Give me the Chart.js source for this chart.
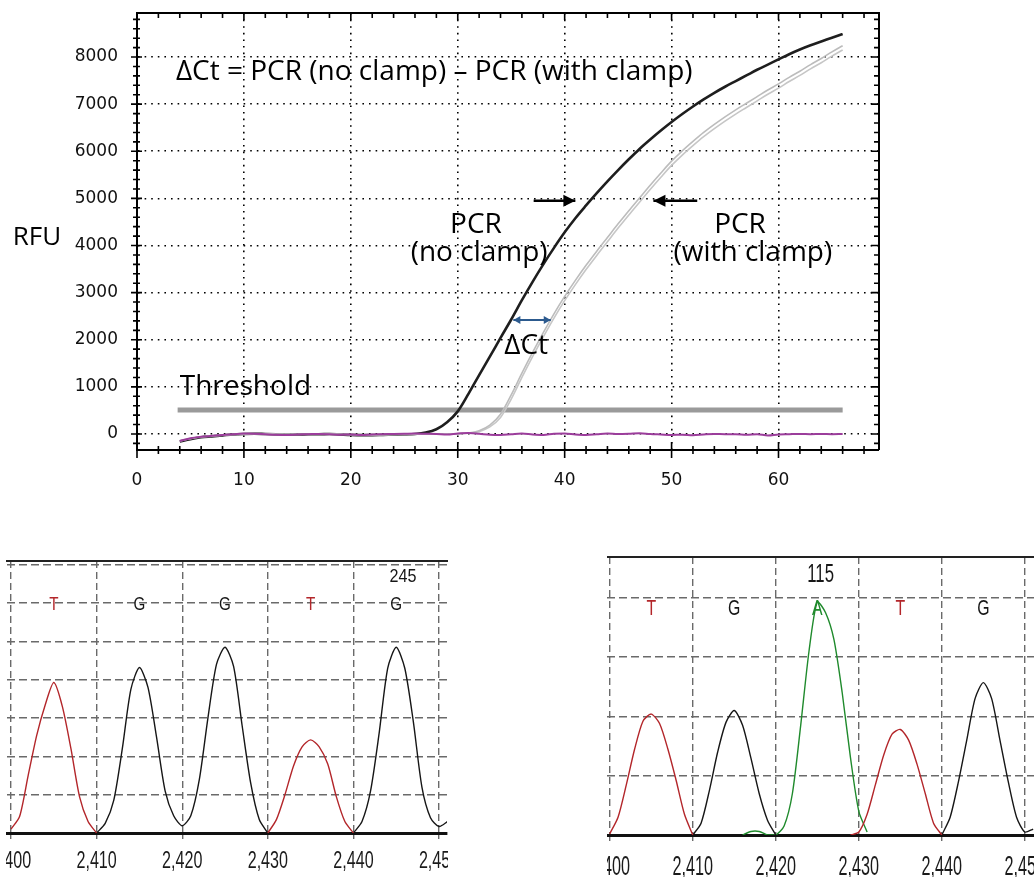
<!DOCTYPE html>
<html>
<head>
<meta charset="utf-8">
<title>Clamp PCR and sequencing traces</title>
<script src="https://cdn.jsdelivr.net/npm/chart.js@4.4.1/dist/chart.umd.min.js"></script>
<style>
  html, body { margin: 0; padding: 0; background: #fff; }
  body { width: 1034px; height: 877px; position: relative; overflow: hidden; }
  canvas { position: absolute; }
  #pcr { left: 0; top: 0; }
  #seqNoClamp { left: 6px; top: 540px; }
  #seqClamp { left: 607px; top: 540px; }
</style>
</head>
<body>
<canvas id="pcr" width="900" height="500"></canvas>
<canvas id="seqNoClamp" width="442" height="337"></canvas>
<canvas id="seqClamp" width="427" height="337"></canvas>
<script>
// ---- amplification plot (RFU per cycle) ----
const CYCLES = [4, 5, 6, 7, 8, 9, 10, 11, 12, 13, 14, 15, 16, 17, 18, 19, 20, 21, 22, 23, 24, 25, 26, 27, 28, 29,
  30, 31, 32, 33, 34, 35, 36, 37, 38, 39, 40, 41, 42, 43, 44, 45, 46, 47, 48, 49, 50, 51, 52, 53, 54, 55, 56, 57, 58, 59,
  60, 61, 62, 63, 64, 65, 66];
const RFU_NO_CLAMP = [-160, -110, -70, -50, -30, -10, 0, 5, 0, -5, -10, -10, -5, -5, 0, -10, -20, -25, -25, -20, -15, -10, 0, 30, 100, 250,
  480, 850, 1250, 1640, 2040, 2430, 2840, 3230, 3600, 3950, 4280, 4580, 4850, 5110, 5360, 5600, 5830, 6050, 6250, 6440,
  6620, 6790, 6950, 7100, 7240, 7370, 7490, 7610, 7730, 7840, 7950, 8060, 8160, 8250, 8330, 8410, 8490];
const RFU_CLAMP_A = [-150, -100, -65, -45, -25, -10, 0, 5, 0, -5, -5, -10, -5, 0, 0, -5, -15, -20, -20, -20, -15, -10, -5, -5, 0, 0,
  5, 20, 70, 190, 420, 830, 1290, 1730, 2150, 2550, 2920, 3260, 3580, 3880, 4170, 4460, 4740, 5010, 5280, 5540,
  5790, 6010, 6210, 6400, 6570, 6730, 6880, 7020, 7160, 7300, 7430, 7570, 7700, 7840, 7970, 8110, 8240];
const RFU_CLAMP_B = [-145, -95, -60, -40, -25, -10, 0, 5, 5, 0, -5, -5, -5, 0, 0, -5, -10, -15, -20, -15, -10, -10, -5, -5, 0, 0,
  3, 14, 50, 150, 350, 740, 1200, 1640, 2060, 2460, 2830, 3170, 3490, 3790, 4080, 4370, 4650, 4920, 5190, 5450,
  5700, 5920, 6120, 6310, 6480, 6640, 6790, 6930, 7070, 7210, 7340, 7480, 7610, 7750, 7880, 8020, 8150];
const RFU_NTC = [-150, -90, -60, -40, -20, -5, 10, 5, -5, -15, -20, -10, -5, 0, -5, -15, -10, -20, -10, -5, 0, 5, 10, 5, 0, -10,
  10, 20, 5, -15, -20, -5, 10, -10, -20, 5, 10, -10, -20, -5, 10, 0, 5, 15, 0, -10,
  -20, -15, -25, -10, 0, -5, -5, -15, -5, -30, -10, -5, 0, -5, 0, -5, 0];
const THRESHOLD_RFU = 510;
const THRESHOLD_CYCLES = [3.8, 66];

// ---- sequencing traces (signal per scan) ----
const SCANS = [2400, 2401, 2402, 2403, 2404, 2405, 2406, 2407, 2408, 2409, 2410, 2411, 2412, 2413, 2414, 2415, 2416, 2417,
  2418, 2419, 2420, 2421, 2422, 2423, 2424, 2425, 2426, 2427, 2428, 2429, 2430, 2431, 2432, 2433, 2434, 2435, 2436,
  2437, 2438, 2439, 2440, 2441, 2442, 2443, 2444, 2445, 2446, 2447, 2448, 2449, 2450, 2451];
const _ = null;
// without clamp
const T_NO_CLAMP = [0.10, 0.43, 1.5, 2.55, 3.35, 3.93, 3.3, 2.2, 0.95, 0.3, 0,
  _, _, _, _, _, _, _, _, _, _, _, _, _, _, _, _, _, _, _,
  0, 0.35, 1.0, 1.75, 2.25, 2.43, 2.25, 1.8, 0.95, 0.3, 0,
  _, _, _, _, _, _, _, _, _, _, _];
const G_NO_CLAMP = [_, _, _, _, _, _, _, _, _, _,
  0, 0.25, 0.85, 2.2, 3.75, 4.32, 3.8, 2.5, 1.1, 0.45, 0.19, 0.45, 1.4, 3.0, 4.4, 4.85, 4.35, 2.8, 1.3, 0.35, 0,
  _, _, _, _, _, _, _, _, _,
  0, 0.3, 1.1, 2.6, 4.3, 4.85, 4.3, 2.9, 1.2, 0.4, 0.17, 0.3];
// with clamp
const T_CLAMP = [0.02, 0.3, 0.85, 1.45, 1.92, 2.04, 1.88, 1.45, 0.92, 0.35, 0,
  _, _, _, _, _, _, _, _, _, _, _, _, _, _, _, _, _, _,
  0, 0.05, 0.35, 0.85, 1.35, 1.7, 1.78, 1.6, 1.2, 0.7, 0.2, 0,
  _, _, _, _, _, _, _, _, _, _, _];
const G_CLAMP = [_, _, _, _, _, _, _, _, _, _,
  0, 0.2, 0.75, 1.4, 1.9, 2.1, 1.85, 1.3, 0.7, 0.25, 0,
  _, _, _, _, _, _, _, _, _, _, _, _, _, _, _, _, _, _, _,
  0, 0.3, 0.9, 1.6, 2.3, 2.57, 2.3, 1.6, 0.9, 0.3, 0.05, 0.1];
const A_CLAMP = [_, _, _, _, _, _, _, _, _, _, _, _, _, _, _, _,
  0, 0.06, 0.06, 0, 0, 0.15, 0.7, 1.85, 3.1, 3.93, 3.75, 3.3, 2.4, 1.3, 0.4, 0.05,
  _, _, _, _, _, _, _, _, _, _, _, _, _, _, _, _, _, _, _, _];

const BASES = ['T', 'G', 'G', 'T', 'G'];
const BASES_CLAMP = ['T', 'G', 'A', 'T', 'G'];
const BASE_SCANS = [2405, 2415, 2425, 2435, 2445];

const BASE_COLORS = { T: '#b3262a', G: '#161616', A: '#1f8a2c' };
const ANNOT_FONT = '"Open Sans", "Noto Sans", sans-serif';
const TRACE_FONT = '"Liberation Sans", Arial, sans-serif';

const toPoints = (xs, ys) => xs.map((x, i) => ({ x, y: ys[i] }));

// tick marks that cross the left/bottom axes and point inward on top/right
const frameTicks = {
  id: 'frameTicks',
  afterDraw(chart) {
    const { ctx, chartArea: a, scales: { x, y } } = chart;
    ctx.save();
    ctx.strokeStyle = '#000';
    ctx.lineWidth = 1.6;
    ctx.beginPath();
    x.ticks.forEach(t => {
      const px = x.getPixelForValue(t.value);
      const major = t.value % 10 === 0;
      ctx.moveTo(px, a.bottom - (major ? 8 : 4));
      ctx.lineTo(px, a.bottom + (major ? 8 : 4));
      ctx.moveTo(px, a.top);
      ctx.lineTo(px, a.top + (major ? 7 : 5));
    });
    y.ticks.forEach(t => {
      const py = y.getPixelForValue(t.value);
      const major = t.value % 1000 === 0;
      ctx.moveTo(a.left - (major ? 6 : 4), py);
      ctx.lineTo(a.left + (major ? 5 : 3), py);
      ctx.moveTo(a.right, py);
      ctx.lineTo(a.right - (major ? 8 : 5), py);
    });
    ctx.stroke();
    ctx.lineWidth = 2;
    ctx.beginPath();
    ctx.moveTo(a.left, a.top);
    ctx.lineTo(a.right, a.top);
    ctx.lineTo(a.right, a.bottom);
    ctx.stroke();
    ctx.restore();
  },
};

// text (optionally squeezed sideways) and arrows placed in data coordinates
const notes = {
  id: 'notes',
  afterDatasetsDraw(chart, args, opts) {
    const { ctx, scales: { x, y } } = chart;
    ctx.save();
    (opts.arrows || []).forEach(a => {
      const x1 = x.getPixelForValue(a.from[0]), y1 = y.getPixelForValue(a.from[1]);
      const x2 = x.getPixelForValue(a.to[0]), y2 = y.getPixelForValue(a.to[1]);
      ctx.strokeStyle = a.color;
      ctx.fillStyle = a.color;
      ctx.lineWidth = a.width;
      ctx.beginPath();
      ctx.moveTo(x1, y1);
      ctx.lineTo(x2, y2);
      ctx.stroke();
      const heads = a.both ? [[x2, y2, x1, y1], [x1, y1, x2, y2]] : [[x2, y2, x1, y1]];
      heads.forEach(([hx, hy, bx, by]) => {
        const ang = Math.atan2(hy - by, hx - bx);
        const c = Math.cos(ang), s = Math.sin(ang);
        ctx.beginPath();
        ctx.moveTo(hx, hy);
        ctx.lineTo(hx - a.head * c + a.half * s, hy - a.head * s - a.half * c);
        ctx.lineTo(hx - a.head * c - a.half * s, hy - a.head * s + a.half * c);
        ctx.closePath();
        ctx.fill();
      });
    });
    (opts.texts || []).forEach(t => {
      ctx.save();
      ctx.font = t.font;
      ctx.fillStyle = t.color || '#000';
      ctx.textAlign = t.align || 'center';
      ctx.textBaseline = 'middle';
      ctx.translate(x.getPixelForValue(t.x), y.getPixelForValue(t.y));
      ctx.scale(t.squeeze || 1, 1);
      ctx.fillText(t.text, 0, 0);
      ctx.restore();
    });
    ctx.restore();
  },
};

// condensed scan-number labels under the trace axis
const scanLabels = {
  id: 'scanLabels',
  afterDraw(chart, args, opts) {
    const { ctx, scales: { x } } = chart;
    ctx.save();
    ctx.font = `${opts.size}px ${TRACE_FONT}`;
    ctx.fillStyle = '#1a1a1a';
    ctx.textAlign = 'center';
    ctx.textBaseline = 'middle';
    x.ticks.forEach(t => {
      ctx.save();
      ctx.translate(x.getPixelForValue(t.value), x.top + opts.offset);
      ctx.scale(opts.squeeze, 1);
      ctx.fillText(t.value.toLocaleString('en-US'), 0, 0);
      ctx.restore();
    });
    ctx.restore();
  },
};

new Chart(document.getElementById('pcr'), {
  type: 'line',
  data: {
    datasets: [
      { label: 'NTC', data: toPoints(CYCLES, RFU_NTC), borderColor: '#9b3d9b', borderWidth: 2, order: 1 },
      { label: 'With clamp A', data: toPoints(CYCLES, RFU_CLAMP_A), borderColor: '#bcbcbc', borderWidth: 1.6, order: 2 },
      { label: 'With clamp B', data: toPoints(CYCLES, RFU_CLAMP_B), borderColor: '#c6c6c6', borderWidth: 1.6, order: 3 },
      { label: 'No clamp', data: toPoints(CYCLES, RFU_NO_CLAMP), borderColor: '#1e1e1e', borderWidth: 2.6, order: 4 },
      {
        label: 'Threshold',
        data: THRESHOLD_CYCLES.map(c => ({ x: c, y: THRESHOLD_RFU })),
        borderColor: '#9a9a9a',
        borderWidth: 5,
        order: 5,
      },
    ],
  },
  options: {
    responsive: false,
    animation: false,
    layout: { padding: { top: 13, right: 21, left: 0, bottom: 0 } },
    elements: { point: { radius: 0 }, line: { cubicInterpolationMode: 'monotone' } },
    plugins: {
      legend: { display: false },
      tooltip: { enabled: false },
      notes: {
        texts: [
          { text: '\u0394Ct = PCR (no clamp) \u2013 PCR (with clamp)', x: 27.8, y: 7675, font: `28px ${ANNOT_FONT}` },
          { text: 'RFU', x: -9.35, y: 4160, font: `26px ${ANNOT_FONT}` },
          { text: 'PCR', x: 31.7, y: 4437, font: `28px ${ANNOT_FONT}` },
          { text: '(no clamp)', x: 32.0, y: 3843, font: `28px ${ANNOT_FONT}` },
          { text: 'PCR', x: 56.4, y: 4437, font: `28px ${ANNOT_FONT}` },
          { text: '(with clamp)', x: 57.6, y: 3843, font: `28px ${ANNOT_FONT}` },
          { text: '\u0394Ct', x: 36.4, y: 1868, font: `28px ${ANNOT_FONT}` },
          { text: 'Threshold', x: 4.0, y: 1004, font: `28px ${ANNOT_FONT}`, align: 'left' },
        ],
        arrows: [
          { from: [37.1, 4950], to: [41.0, 4950], color: '#000', width: 2.4, head: 12, half: 6 },
          { from: [52.4, 4950], to: [48.3, 4950], color: '#000', width: 2.4, head: 12, half: 6 },
          { from: [35.2, 2420], to: [38.7, 2420], color: '#2c5a8e', width: 2, head: 7, half: 4, both: true },
        ],
      },
    },
    scales: {
      x: {
        type: 'linear',
        min: 0,
        max: 69.4,
        ticks: {
          stepSize: 2,
          maxTicksLimit: 1000,
          includeBounds: false,
          autoSkip: false,
          maxRotation: 0,
          padding: 20,
          color: '#111',
          font: { family: 'DejaVu Sans', size: 17 },
          callback: v => (v % 10 === 0 ? v : ''),
        },
        grid: {
          drawTicks: false,
          color: '#000',
          lineWidth: ctx => (ctx.tick && ctx.tick.value % 10 === 0 && ctx.tick.value > 0 ? 1.6 : 0),
        },
        border: { color: '#000', width: 2, dash: [1.6, 5] },
        afterFit: s => { s.height = 50; s.paddingLeft = 0; s.paddingRight = 0; },
      },
      y: {
        min: -340,
        max: 8935,
        ticks: {
          stepSize: 200,
          maxTicksLimit: 1000,
          includeBounds: false,
          autoSkip: false,
          padding: 19,
          color: '#111',
          font: { family: 'DejaVu Sans', size: 17 },
          callback: v => (v % 1000 === 0 ? v : ''),
        },
        grid: {
          drawTicks: false,
          color: '#000',
          lineWidth: ctx => (ctx.tick && ctx.tick.value % 1000 === 0 ? 1.6 : 0),
        },
        border: { color: '#000', width: 2, dash: [1.6, 5] },
        afterFit: s => { s.width = 137; s.paddingTop = 0; s.paddingBottom = 0; },
      },
    },
  },
  plugins: [frameTicks, notes],
});

function traceChart(id, cfg) {
  const text = (t, x, y, color, size, squeeze) => ({ text: t, x, y, color, font: `${size}px ${TRACE_FONT}`, squeeze });
  return new Chart(document.getElementById(id), {
    type: 'line',
    data: {
      datasets: cfg.traces.map(t => ({
        label: t.base,
        data: toPoints(SCANS, t.values),
        borderColor: BASE_COLORS[t.base],
        borderWidth: 1.4,
        tension: 0.25,
        spanGaps: false,
        xAxisID: 'x',
        yAxisID: 'y',
      })),
    },
    options: {
      responsive: false,
      animation: false,
      layout: { padding: cfg.padding },
      elements: { point: { radius: 0 } },
      plugins: {
        legend: { display: false },
        tooltip: { enabled: false },
        notes: {
          texts: cfg.bases
            .map((b, i) => text(b, BASE_SCANS[i], cfg.baseRow, BASE_COLORS[b], cfg.baseSize, cfg.baseSqueeze))
            .concat([text(cfg.position, cfg.positionAt[0], cfg.positionAt[1], '#161616', cfg.positionSize, cfg.positionSqueeze)]),
        },
        scanLabels: { size: cfg.labelSize, offset: cfg.labelOffset, squeeze: cfg.labelSqueeze },
      },
      scales: {
        x: {
          type: 'linear',
          min: cfg.xMin,
          max: cfg.xMax,
          ticks: { display: false, stepSize: 10, maxTicksLimit: 1000, includeBounds: false, autoSkip: false },
          grid: { color: '#6a6a6a', lineWidth: 1.4, tickLength: 9, tickColor: '#6a6a6a', tickBorderDash: [4, 3] },
          border: { color: '#111', width: 3, dash: [7, 4] },
          afterFit: s => { s.height = cfg.axisHeight; s.paddingLeft = 0; s.paddingRight = 0; },
        },
        xTop: {
          type: 'linear',
          position: 'top',
          min: cfg.xMin,
          max: cfg.xMax,
          ticks: { display: false },
          grid: { display: false, drawTicks: false },
          border: { color: '#222', width: 2 },
          afterFit: s => { s.height = 0; s.paddingLeft = 0; s.paddingRight = 0; },
        },
        y: {
          min: 0,
          max: cfg.yMax,
          ticks: { display: false, stepSize: 1, includeBounds: false },
          grid: {
            drawTicks: false,
            color: '#6a6a6a',
            lineWidth: ctx => (ctx.tick && ctx.tick.value > 0 ? 1.4 : 0),
          },
          border: { display: false, dash: [8, 4] },
          afterFit: s => { s.width = 0; s.paddingTop = 0; s.paddingBottom = 0; },
        },
      },
    },
    plugins: [notes, scanLabels],
  });
}

traceChart('seqNoClamp', {
  traces: [{ base: 'T', values: T_NO_CLAMP }, { base: 'G', values: G_NO_CLAMP }],
  bases: BASES,
  position: '245',
  positionAt: [2445.8, 6.69],
  baseRow: 5.96,
  baseSize: 19,
  baseSqueeze: 0.8,
  positionSize: 19,
  positionSqueeze: 0.85,
  labelSize: 23,
  labelOffset: 29,
  labelSqueeze: 0.7,
  padding: { top: 21, left: 1, right: 1, bottom: 0 },
  axisHeight: 44,
  xMin: 2399.53,
  xMax: 2450.93,
  yMax: 7.10,
});

traceChart('seqClamp', {
  traces: [{ base: 'T', values: T_CLAMP }, { base: 'G', values: G_CLAMP }, { base: 'A', values: A_CLAMP }],
  bases: BASES_CLAMP,
  position: '115',
  positionAt: [2425.4, 4.38],
  baseRow: 3.82,
  baseSize: 22,
  baseSqueeze: 0.72,
  positionSize: 25,
  positionSqueeze: 0.67,
  labelSize: 27,
  labelOffset: 33,
  labelSqueeze: 0.6,
  padding: { top: 17, left: 0, right: 0, bottom: 0 },
  axisHeight: 42,
  xMin: 2399.67,
  xMax: 2451.1,
  yMax: 4.69,
});
</script>
</body>
</html>
